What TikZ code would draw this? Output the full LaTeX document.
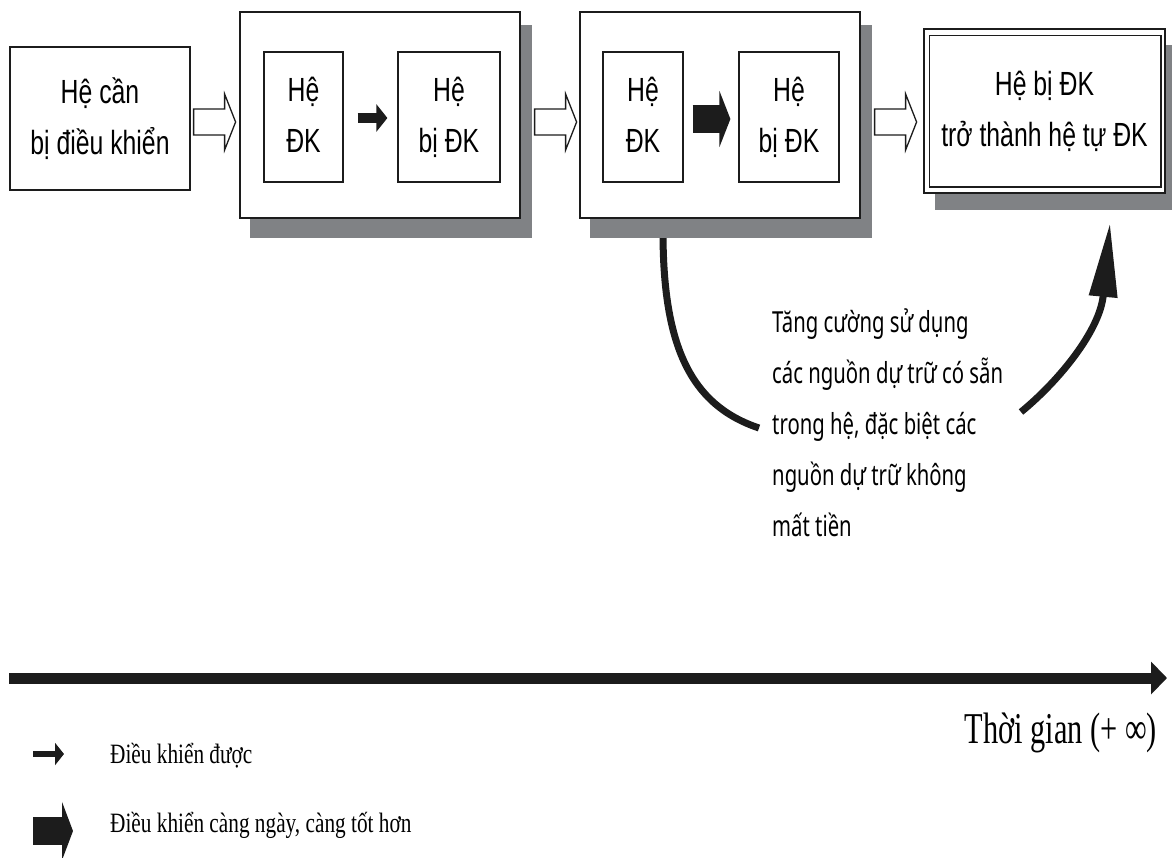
\documentclass[tikz,border=0pt]{standalone}
\usepackage{fontspec}
\usetikzlibrary{calc,arrows.meta}
\newfontfamily\boxfont[FakeStretch=0.74]{Liberation Sans}
\newfontfamily\notefont[FakeStretch=0.7]{Noto Sans}
\newfontfamily\axisfont[FakeStretch=0.69]{Liberation Serif}
\newfontfamily\keyfont[FakeStretch=0.76]{Liberation Serif}
\definecolor{ink}{RGB}{28,28,28}
\definecolor{shadowgray}{RGB}{128,130,133}

\begin{document}
\begin{tikzpicture}[x=1pt,y=-1pt,
  sysbox/.style={draw=ink, line width=1.2, fill=white, inner sep=0pt,
    font=\boxfont\fontsize{33.5}{51}\selectfont},
  frame/.style={draw=ink, line width=1.2, fill=white, inner sep=0pt},
  hollow/.style={draw=ink, line width=1.3, fill=white, line join=miter},
  thinctl/.style={draw=ink, line width=10,
    -{Triangle[length=11pt,width=27pt]}},
  strongctl/.style={draw=ink, line width=28,
    -{Triangle[length=11pt,width=56pt]}},
  keythin/.style={draw=ink, line width=6,
    -{Triangle[length=9pt,width=22pt]}},
  keystrong/.style={draw=ink, line width=28,
    -{Triangle[length=11pt,width=58pt]}},
  loop/.style={draw=ink, line width=7},
  hollowarrow/.pic={\draw[hollow] (0,-13) -- (31,-13) -- (31,-28) -- (42,0)
    -- (31,28) -- (31,13) -- (0,13) -- cycle;},
]
\useasboundingbox (0,0) rectangle (1172,857);
\fill[white] (0,0) rectangle (1172,857);

% stage 1: the system to be controlled
\node[sysbox, minimum width=180, minimum height=143] (A) at (100,118.5)
  {\begin{tabular}{@{}c@{}}Hệ cần\\bị điều khiển\end{tabular}};

% stage 2
\fill[shadowgray] (250,25) rectangle (532,238);
\node[frame, minimum width=280, minimum height=206] (B) at (380,115) {};
\node[sysbox, minimum width=79, minimum height=130] (B1) at (303.5,117)
  {\begin{tabular}{@{}c@{}}Hệ\\ĐK\end{tabular}};
\node[sysbox, minimum width=102, minimum height=130] (B2) at (449,117)
  {\begin{tabular}{@{}c@{}}Hệ\\bị ĐK\end{tabular}};
\draw[thinctl] ($(B1.east)+(14,1)$) -- ($(B2.west)+(-10,1)$);

% curved path below stage 3 (drawn before its shadow)
\coordinate (loopstart) at (663,232);
\coordinate (loopend) at (759,428);
\draw[loop] (loopstart) .. controls (663,345) and (690,405) .. (loopend);

% stage 3
\fill[shadowgray] (590,25) rectangle (872,238);
\node[frame, minimum width=280, minimum height=206] (C) at (720,115) {};
\node[sysbox, minimum width=80, minimum height=130] (C1) at (643,117)
  {\begin{tabular}{@{}c@{}}Hệ\\ĐK\end{tabular}};
\node[sysbox, minimum width=100, minimum height=130] (C2) at (789,117)
  {\begin{tabular}{@{}c@{}}Hệ\\bị ĐK\end{tabular}};
\draw[strongctl] ($(C1.east)+(9,2)$) -- ($(C2.west)+(-8,2)$);

% stage 4: double-framed box
\fill[shadowgray] (935,45) rectangle (1172,210);
\node[sysbox, line width=1.6, minimum width=241, minimum height=164] (D)
  at (1044.5,111)
  {\begin{tabular}{@{}c@{}}Hệ bị ĐK\\trở thành hệ tự ĐK\end{tabular}};
\draw[ink, line width=1.4] ($(D.north west)+(6,7)$) rectangle ($(D.south east)+(-5,-7)$);

% hollow transition arrows between stages
\pic at ($(A.east)+(3,3.5)$) {hollowarrow};
\pic at ($(B.east)+(14,7)$) {hollowarrow};
\pic at ($(C.east)+(14,7)$) {hollowarrow};

% rising arrow into stage 4
\coordinate (risestart) at (1021,412);
\coordinate (risetip) at (1110,223);
\draw[loop, -{Triangle[length=74pt,width=27pt]}] (risestart)
  .. controls (1060,380) and (1100,330) .. (risetip);

% explanatory note
\node[anchor=base west, inner sep=0pt, font=\notefont\fontsize{29}{51}\selectfont]
  (note) at (772,332)
  {\begin{tabular}[t]{@{}l@{}}Tăng cường sử dụng\\các nguồn dự trữ có sẵn\\trong hệ, đặc biệt các\\nguồn dự trữ không\\mất tiền\end{tabular}};

% time axis
\coordinate (t0) at (9,678);
\coordinate (t1) at (1167,678);
\draw[draw=ink, line width=11, -{Triangle[length=16pt,width=32pt]}] (t0) -- (t1);
\node[anchor=base east, inner sep=0pt, font=\axisfont\fontsize{44}{50}\selectfont]
  (axislabel) at (1157,743) {Thời gian (+\,∞)};

% legend
\coordinate (k1a) at (33,754);
\coordinate (k1b) at (64,754);
\draw[keythin] (k1a) -- (k1b);
\node[anchor=base west, inner sep=0pt, font=\keyfont\fontsize{28}{30}\selectfont]
  (key1) at (110,763) {Điều khiển được};
\coordinate (k2a) at (33,831);
\coordinate (k2b) at (73,831);
\draw[keystrong] (k2a) -- (k2b);
\node[anchor=base west, inner sep=0pt, font=\keyfont\fontsize{28}{30}\selectfont]
  (key2) at (110,832) {Điều khiển càng ngày, càng tốt hơn};
\end{tikzpicture}
\end{document}
